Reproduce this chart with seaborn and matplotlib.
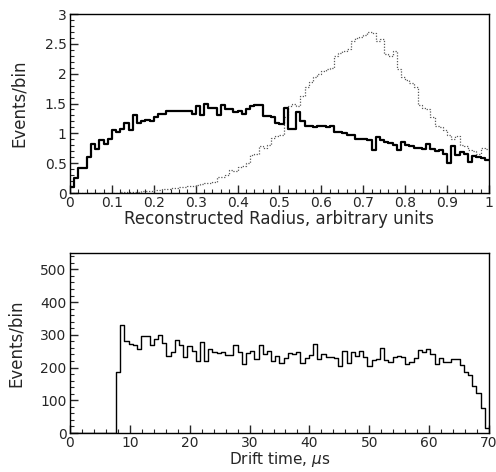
import numpy as np
import pandas as pd
import matplotlib
matplotlib.use("Agg")
import matplotlib.pyplot as plt
import matplotlib.ticker as mticker
import seaborn as sns

# top panel: reconstructed radius, 100 bins on [0, 1]
radius_solid = [
    0.10, 0.25, 0.42, 0.42, 0.60, 0.82, 0.73, 0.88, 0.82, 0.90,
    1.06, 1.03, 1.07, 1.18, 1.05, 1.30, 1.17, 1.20, 1.22, 1.20,
    1.27, 1.33, 1.33, 1.38, 1.38, 1.38, 1.37, 1.38, 1.37, 1.32,
    1.45, 1.30, 1.50, 1.42, 1.42, 1.31, 1.47, 1.40, 1.40, 1.35,
    1.38, 1.32, 1.40, 1.45, 1.47, 1.47, 1.29, 1.29, 1.27, 1.17,
    1.15, 1.42, 1.08, 1.08, 1.36, 1.20, 1.12, 1.12, 1.10, 1.12,
    1.12, 1.10, 1.12, 1.03, 1.03, 1.00, 0.97, 0.97, 0.90, 0.90,
    0.90, 0.88, 0.72, 0.94, 0.88, 0.86, 0.84, 0.80, 0.72, 0.86,
    0.80, 0.78, 0.76, 0.76, 0.74, 0.82, 0.74, 0.70, 0.72, 0.66,
    0.50, 0.78, 0.64, 0.68, 0.66, 0.52, 0.62, 0.60, 0.58, 0.56,
]
radius_dotted = [
    0.00, 0.00, 0.00, 0.00, 0.00, 0.00, 0.00, 0.00, 0.00, 0.00,
    0.00, 0.00, 0.01, 0.01, 0.01, 0.02, 0.02, 0.03, 0.03, 0.04,
    0.05, 0.05, 0.06, 0.07, 0.08, 0.08, 0.10, 0.10, 0.12, 0.11,
    0.13, 0.15, 0.17, 0.16, 0.19, 0.27, 0.26, 0.30, 0.38, 0.37,
    0.44, 0.45, 0.50, 0.63, 0.65, 0.78, 0.76, 0.80, 0.93, 0.95,
    0.97, 1.28, 1.45, 1.50, 1.46, 1.62, 1.78, 1.86, 1.95, 2.00,
    2.05, 2.08, 2.10, 2.30, 2.35, 2.38, 2.42, 2.55, 2.60, 2.62,
    2.65, 2.70, 2.68, 2.55, 2.58, 2.33, 2.30, 2.38, 2.08, 1.95,
    1.90, 1.85, 1.78, 1.48, 1.42, 1.40, 1.28, 1.12, 1.10, 1.05,
    0.98, 0.90, 0.95, 0.80, 0.78, 0.72, 0.70, 0.65, 0.75, 0.73,
]

# bottom panel: drift time, 100 bins on [0, 70] us
drift_counts = [
    0, 0, 0, 0, 0, 0, 0, 0, 0, 0,
    0, 187, 330, 282, 271, 268, 258, 297, 297, 268,
    287, 299, 274, 236, 246, 285, 270, 232, 265, 251,
    220, 279, 220, 258, 246, 243, 248, 238, 238, 270,
    246, 212, 243, 251, 226, 268, 241, 251, 219, 236,
    214, 228, 243, 241, 248, 214, 228, 238, 272, 226,
    240, 233, 233, 230, 204, 251, 214, 246, 235, 251,
    233, 204, 222, 226, 261, 222, 217, 233, 236, 233,
    212, 217, 228, 253, 248, 256, 241, 212, 228, 217,
    217, 226, 226, 207, 185, 177, 143, 122, 75, 16,
]

n_r = len(radius_solid)
n_d = len(drift_counts)
radius_df = pd.DataFrame({
    "r": (np.arange(n_r) + 0.5) / n_r,
    "solid": radius_solid,
    "dotted": radius_dotted,
})
drift_df = pd.DataFrame({
    "t": (np.arange(n_d) + 0.5) * 70 / n_d,
    "n": drift_counts,
})

sns.set_style("ticks", {"xtick.direction": "in", "ytick.direction": "in"})
plt.rcParams["font.family"] = ["DejaVu Sans"]

fig = plt.figure(figsize=(4.96, 4.72), dpi=100)
ax1 = fig.add_axes([0.1411, 0.5911, 0.8448, 0.3792])
ax2 = fig.add_axes([0.1411, 0.0826, 0.8448, 0.3814])

sns.histplot(data=radius_df, x="r", weights="dotted", bins=n_r, binrange=(0, 1),
             element="step", fill=False, color="0.35", linestyle=(0, (1, 1.3)),
             linewidth=0.9, ax=ax1)
sns.histplot(data=radius_df, x="r", weights="solid", bins=n_r, binrange=(0, 1),
             element="step", fill=False, color="black", linewidth=1.6, ax=ax1)
sns.histplot(data=drift_df, x="t", weights="n", bins=n_d, binrange=(0, 70),
             element="step", fill=False, color="black", linewidth=1.0, ax=ax2)

fmt = mticker.FuncFormatter(lambda v, p: "%g" % v)

ax1.set_xlim(0, 1)
ax1.set_ylim(0, 3)
ax1.xaxis.set_major_locator(mticker.MultipleLocator(0.1))
ax1.xaxis.set_minor_locator(mticker.MultipleLocator(0.02))
ax1.yaxis.set_major_locator(mticker.MultipleLocator(0.5))
ax1.yaxis.set_minor_locator(mticker.MultipleLocator(0.1))
ax1.set_xlabel("Reconstructed Radius, arbitrary units", fontsize=12, labelpad=0)

ax2.set_xlim(0, 70)
ax2.set_ylim(0, 550)
ax2.xaxis.set_major_locator(mticker.MultipleLocator(10))
ax2.xaxis.set_minor_locator(mticker.MultipleLocator(2))
ax2.yaxis.set_major_locator(mticker.MultipleLocator(100))
ax2.yaxis.set_minor_locator(mticker.MultipleLocator(20))
ax2.set_xlabel(r"Drift time, $\mu$s", fontsize=11, labelpad=0)

for ax in (ax1, ax2):
    ax.xaxis.set_major_formatter(fmt)
    ax.yaxis.set_major_formatter(fmt)
    ax.tick_params(which="major", length=6, width=1, labelsize=10, pad=2.5)
    ax.tick_params(which="minor", length=3, width=0.8)
    ax.tick_params(top=False, right=False, which="both")
    for s in ax.spines.values():
        s.set_visible(True)
        s.set_linewidth(1.0)
        s.set_color("black")

ax1.set_ylabel("Events/bin", fontsize=12, labelpad=12)
ax2.set_ylabel("Events/bin", fontsize=12, labelpad=11)

fig.savefig("out.png", dpi=100)
